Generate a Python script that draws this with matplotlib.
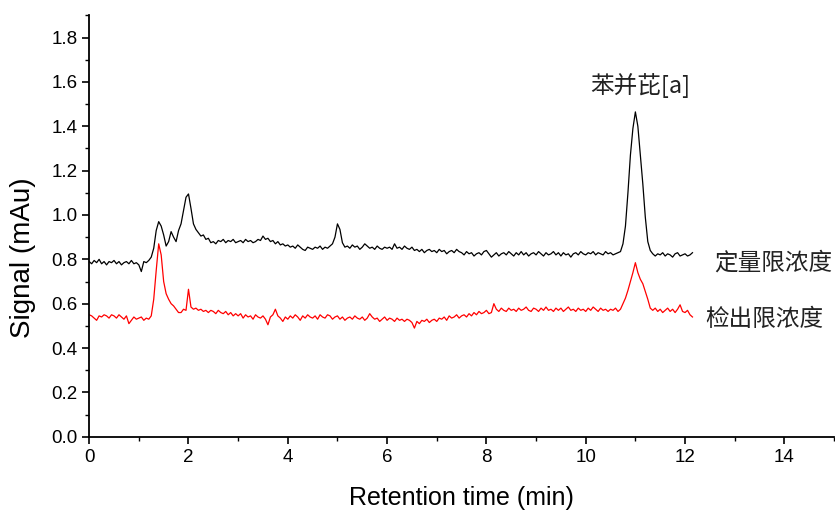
import matplotlib
matplotlib.use("Agg")
import matplotlib.pyplot as plt
import numpy as np
from matplotlib.ticker import MultipleLocator, FormatStrFormatter

plt.rcParams["font.family"] = ["Liberation Sans", "DejaVu Sans"]

# sampling grid of the traces (min), every 0.05 min from 0 to 12.15
time_step = 0.05
n_points = 244

# 定量限浓度 trace (black)
quant_signal = [
    0.79, 0.78, 0.795, 0.785, 0.80, 0.78, 0.79, 0.775, 0.79, 0.785,
    0.795, 0.78, 0.79, 0.775, 0.785, 0.79, 0.78, 0.795, 0.78, 0.785,
    0.775, 0.745, 0.79, 0.785, 0.795, 0.81, 0.85, 0.93, 0.97, 0.95,
    0.91, 0.86, 0.88, 0.925, 0.90, 0.88, 0.93, 0.96, 1.02, 1.08,
    1.095, 1.03, 0.96, 0.935, 0.92, 0.905, 0.91, 0.89, 0.895, 0.875,
    0.88, 0.87, 0.885, 0.88, 0.89, 0.875, 0.885, 0.88, 0.89, 0.875,
    0.88, 0.885, 0.875, 0.89, 0.88, 0.885, 0.875, 0.88, 0.89, 0.885,
    0.905, 0.89, 0.895, 0.88, 0.885, 0.87, 0.88, 0.865, 0.87, 0.86,
    0.865, 0.855, 0.86, 0.85, 0.865, 0.855, 0.845, 0.84, 0.855, 0.85,
    0.845, 0.855, 0.85, 0.86, 0.845, 0.855, 0.85, 0.86, 0.87, 0.90,
    0.96, 0.935, 0.875, 0.855, 0.86, 0.85, 0.865, 0.855, 0.86, 0.845,
    0.855, 0.87, 0.86, 0.85, 0.855, 0.845, 0.86, 0.85, 0.845, 0.855,
    0.85, 0.855, 0.845, 0.87, 0.85, 0.855, 0.845, 0.86, 0.85, 0.845,
    0.855, 0.84, 0.845, 0.835, 0.845, 0.83, 0.84, 0.845, 0.835, 0.84,
    0.83, 0.845, 0.835, 0.84, 0.825, 0.835, 0.84, 0.83, 0.845, 0.835,
    0.83, 0.82, 0.835, 0.825, 0.83, 0.815, 0.825, 0.83, 0.82, 0.835,
    0.84, 0.825, 0.81, 0.82, 0.83, 0.815, 0.825, 0.83, 0.82, 0.835,
    0.825, 0.815, 0.83, 0.82, 0.835, 0.82, 0.83, 0.815, 0.825, 0.83,
    0.82, 0.835, 0.825, 0.815, 0.83, 0.82, 0.825, 0.835, 0.82, 0.83,
    0.815, 0.83, 0.82, 0.825, 0.81, 0.825, 0.83, 0.82, 0.835, 0.825,
    0.82, 0.83, 0.825, 0.835, 0.82, 0.83, 0.825, 0.82, 0.835, 0.825,
    0.83, 0.82, 0.825, 0.83, 0.835, 0.87, 0.95, 1.10, 1.27, 1.39,
    1.465, 1.40, 1.27, 1.14, 0.99, 0.88, 0.84, 0.825, 0.815, 0.825,
    0.82, 0.83, 0.815, 0.825, 0.82, 0.81, 0.825, 0.83, 0.815, 0.82,
    0.825, 0.815, 0.82, 0.83,
]

# 检出限浓度 trace (red)
detect_signal = [
    0.55, 0.545, 0.535, 0.525, 0.545, 0.54, 0.55, 0.545, 0.535, 0.55,
    0.545, 0.535, 0.55, 0.54, 0.53, 0.545, 0.51, 0.525, 0.54, 0.53,
    0.535, 0.54, 0.525, 0.535, 0.53, 0.545, 0.62, 0.75, 0.87, 0.82,
    0.70, 0.645, 0.62, 0.60, 0.59, 0.575, 0.56, 0.56, 0.575, 0.57,
    0.665, 0.585, 0.575, 0.58, 0.57, 0.575, 0.565, 0.57, 0.56, 0.57,
    0.565, 0.555, 0.57, 0.56, 0.555, 0.565, 0.55, 0.56, 0.545, 0.555,
    0.545, 0.555, 0.535, 0.55, 0.54, 0.545, 0.53, 0.55, 0.54, 0.535,
    0.545, 0.53, 0.505, 0.54, 0.55, 0.575, 0.545, 0.535, 0.52, 0.54,
    0.53, 0.545, 0.535, 0.55, 0.54, 0.525, 0.545, 0.535, 0.55, 0.54,
    0.535, 0.545, 0.53, 0.55, 0.54, 0.535, 0.55, 0.545, 0.53, 0.54,
    0.545, 0.53, 0.54, 0.525, 0.535, 0.54, 0.53, 0.545, 0.535, 0.53,
    0.54, 0.525, 0.535, 0.555, 0.54, 0.53, 0.535, 0.52, 0.53, 0.54,
    0.525, 0.535, 0.53, 0.52, 0.535, 0.525, 0.53, 0.52, 0.53, 0.525,
    0.515, 0.49, 0.52, 0.51, 0.525, 0.52, 0.53, 0.515, 0.525, 0.53,
    0.52, 0.535, 0.53, 0.54, 0.525, 0.545, 0.535, 0.54, 0.55, 0.535,
    0.545, 0.55, 0.54, 0.555, 0.545, 0.56, 0.55, 0.565, 0.555, 0.56,
    0.57, 0.555, 0.56, 0.60, 0.575, 0.565, 0.58, 0.57, 0.565, 0.58,
    0.57, 0.575, 0.565, 0.58, 0.57, 0.575, 0.585, 0.57, 0.565, 0.58,
    0.575, 0.565, 0.58, 0.57, 0.585, 0.57, 0.575, 0.565, 0.58, 0.57,
    0.58, 0.565, 0.575, 0.585, 0.57, 0.575, 0.565, 0.58, 0.57, 0.575,
    0.565, 0.58, 0.57, 0.585, 0.575, 0.565, 0.58, 0.57, 0.575, 0.565,
    0.575, 0.57, 0.58, 0.565, 0.575, 0.60, 0.625, 0.66, 0.70, 0.74,
    0.785, 0.74, 0.71, 0.69, 0.655, 0.62, 0.58, 0.57, 0.58, 0.565,
    0.575, 0.56, 0.57, 0.58, 0.565, 0.575, 0.56, 0.575, 0.595, 0.565,
    0.56, 0.57, 0.55, 0.54,
]

trace_labels = ["定量限浓度", "检出限浓度"]
peak_label = "苯并芘[a]"

time = np.arange(n_points) * time_step

fig = plt.figure(figsize=(8.35, 5.15), dpi=100)
ax = fig.add_axes([0.1068, 0.152, 0.892, 0.818])

ax.plot(time, quant_signal, color="black", lw=0.9)
ax.plot(time, detect_signal, color="red", lw=0.9)

ax.set_xlim(0, 15)
ax.set_ylim(0, 1.9)
ax.xaxis.set_major_locator(MultipleLocator(2))
ax.xaxis.set_minor_locator(MultipleLocator(1))
ax.yaxis.set_major_locator(MultipleLocator(0.2))
ax.yaxis.set_minor_locator(MultipleLocator(0.1))
ax.yaxis.set_major_formatter(FormatStrFormatter("%.1f"))
ax.tick_params(which="major", direction="out", length=5, width=1.2, labelsize=13.5)
ax.tick_params(which="minor", direction="out", length=3, width=1.0)
for side in ["top", "right"]:
    ax.spines[side].set_visible(False)
for side in ["left", "bottom"]:
    ax.spines[side].set_linewidth(1.3)

ax.set_xlabel("Retention time (min)", fontsize=18, labelpad=15)
ax.set_ylabel("Signal (mAu)", fontsize=20)
ax.yaxis.set_label_coords(-0.071, 0.424)

cjk = ["Noto Sans CJK SC", "DejaVu Sans"]
ax.text(13.77, 0.785, trace_labels[0], fontsize=17, family=cjk, color="#222222",
        ha="center", va="center")
ax.text(13.6, 0.53, trace_labels[1], fontsize=17, family=cjk, color="#222222",
        ha="center", va="center")
ax.text(11.1, 1.585, peak_label, fontsize=17, family=cjk, color="#222222",
        ha="center", va="center")

fig.savefig("out.png", dpi=100)
